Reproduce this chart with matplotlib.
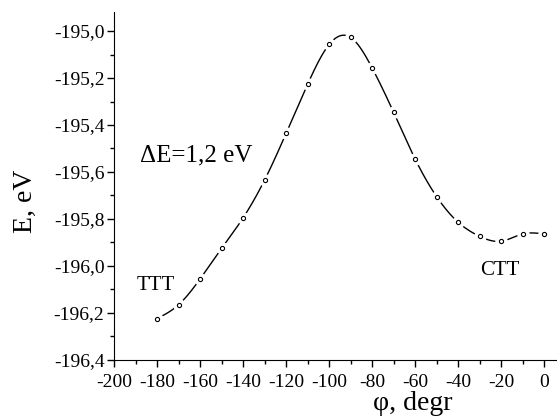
import numpy as np
import matplotlib
matplotlib.use("Agg")
import matplotlib.pyplot as plt
from matplotlib.ticker import MultipleLocator, FuncFormatter

# dihedral angle scan
phi = [-180, -170, -160, -150, -140, -130, -120, -110, -100, -90,
       -80, -70, -60, -50, -40, -30, -20, -10, 0]
energy = [-196.224, -196.165, -196.055, -195.925, -195.795, -195.634, -195.435,
          -195.226, -195.057, -195.027, -195.157, -195.346, -195.545, -195.705,
          -195.814, -195.874, -195.895, -195.864, -195.864]


def natural_spline(x, y, n=400):
    # smooth curve through the points (natural cubic spline)
    x = np.asarray(x, float)
    y = np.asarray(y, float)
    h = np.diff(x)
    m = len(x)
    A = np.zeros((m, m))
    b = np.zeros(m)
    A[0, 0] = A[-1, -1] = 1
    for i in range(1, m - 1):
        A[i, i - 1] = h[i - 1]
        A[i, i] = 2 * (h[i - 1] + h[i])
        A[i, i + 1] = h[i]
        b[i] = 6 * ((y[i + 1] - y[i]) / h[i] - (y[i] - y[i - 1]) / h[i - 1])
    M = np.linalg.solve(A, b)
    xs = np.linspace(x[0], x[-1], n)
    idx = np.clip(np.searchsorted(x, xs) - 1, 0, m - 2)
    x0, x1 = x[idx], x[idx + 1]
    hh = x1 - x0
    t1 = x1 - xs
    t0 = xs - x0
    ys = (M[idx] * t1 ** 3 + M[idx + 1] * t0 ** 3) / (6 * hh) \
        + (y[idx] / hh - M[idx] * hh / 6) * t1 \
        + (y[idx + 1] / hh - M[idx + 1] * hh / 6) * t0
    return xs, ys


plt.rcParams['font.family'] = ['Liberation Serif', 'DejaVu Serif']

fig = plt.figure(figsize=(5.57, 4.16), dpi=100)
ax = fig.add_axes([0.205, 0.135, 0.795, 0.836])

xs, ys = natural_spline(phi, energy)
ax.plot(xs, ys, color='black', lw=1.0, zorder=1)
# white halo around the symbols to break the line
ax.plot(phi, energy, ls='none', marker='o', ms=8, mfc='white', mec='white', zorder=2)
ax.plot(phi, energy, ls='none', marker='o', ms=3, mfc='white', mec='black', mew=0.8, zorder=3)

ax.set_xlim(-200, 6)
ax.set_ylim(-196.4, -194.919)
ax.xaxis.set_major_locator(MultipleLocator(20))
ax.xaxis.set_minor_locator(MultipleLocator(10))
ax.yaxis.set_major_locator(MultipleLocator(0.2))
ax.yaxis.set_minor_locator(MultipleLocator(0.1))
ax.yaxis.set_major_formatter(FuncFormatter(lambda v, p: f"{v:.1f}".replace('.', ',')))
ax.xaxis.set_major_formatter(FuncFormatter(lambda v, p: f"{v:.0f}"))

for s in ['top', 'right']:
    ax.spines[s].set_visible(False)
ax.tick_params(which='both', direction='out', width=1, labelsize=14)
ax.tick_params(which='major', length=5)
ax.tick_params(which='minor', length=3)
ax.tick_params(axis='x', pad=5)
ax.tick_params(axis='y', pad=2)

# axis titles placed like in the original (not centred on the axes)
fig.text(413 / 557, 1 - 403 / 416, 'φ, degr', fontsize=20, ha='center', va='center')
fig.text(25 / 557, 1 - 201 / 416, 'E, eV', fontsize=20, ha='center', va='center',
         rotation=90)

ax.text(-188, -195.53, 'ΔE=1,2 eV', fontsize=18, va='center', ha='left')
ax.text(-180.5, -196.083, 'TTT', fontsize=15, va='center', ha='center')
ax.text(-20.5, -196.019, 'CTT', fontsize=15, va='center', ha='center')

fig.savefig('out.png', dpi=100)
